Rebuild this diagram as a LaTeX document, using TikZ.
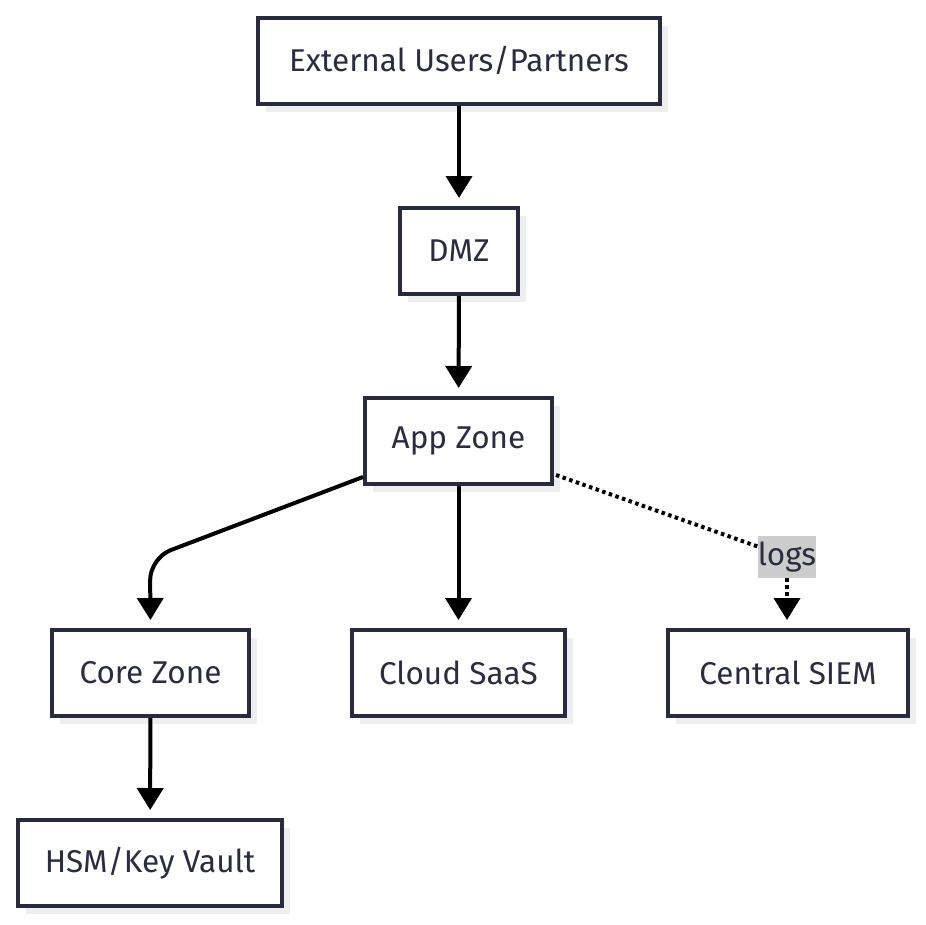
\documentclass[tikz,border=0pt]{standalone}
\usepackage{fontspec}
\setmainfont{Fira Sans}
\usetikzlibrary{arrows.meta,shadows}
\definecolor{borderc}{RGB}{42,42,62}
\definecolor{textc}{RGB}{44,44,64}
\definecolor{shadowc}{RGB}{238,238,238}
\definecolor{labelbg}{RGB}{204,204,204}
\begin{document}
\begin{tikzpicture}[x=1pt,y=-1pt,
  box/.style={draw=borderc, line width=4pt, fill=white, text=textc,
    font=\fontsize{31.5}{36}\selectfont, inner sep=0pt, minimum height=86pt,
    drop shadow={shadow xshift=8pt, shadow yshift=-8pt, fill=shadowc, opacity=1}},
  conn/.style={line width=4pt, draw=black, -{Triangle[width=26pt,length=22pt]}, shorten >=8pt},
  dotconn/.style={line width=4pt, draw=black, dash pattern=on 3.5pt off 3.5pt}
]
\useasboundingbox (0,0) rectangle (926,924);
\node[box, minimum width=402pt] (ext) at (459,60.5) {External Users/Partners};
\node[box, minimum width=118pt] (dmz) at (459,251) {DMZ};
\node[box, minimum width=187pt] (app) at (458.5,441) {App Zone};
\node[box, minimum width=197pt] (core) at (150.5,673) {Core Zone};
\node[box, minimum width=213pt] (saas) at (458.5,673) {Cloud SaaS};
\node[box, minimum width=240pt] (siem) at (788,673) {Central SIEM};
\node[box, minimum width=264pt] (hsm) at (150,863) {HSM/Key Vault};

\draw[conn] (ext) -- (dmz);
\draw[conn] (dmz) -- (app);
\draw[conn] (app) -- (saas);
\draw[conn] (core) -- (hsm);
\coordinate (a1) at (363,477);
\coordinate (c1) at (150,558);
\draw[conn, rounded corners=22pt] (a1) -- (c1) -- (core.north);
\coordinate (a2) at (556,475);
\node[fill=labelbg, text=textc, inner sep=0pt, minimum width=58pt, minimum height=42pt,
  font=\fontsize{31.5}{36}\selectfont] (lbl) at (787,557) {logs};
\draw[dotconn] (a2) -- (lbl.west |- 0,546.5);
\draw[dotconn, -{Triangle[width=26pt,length=22pt]}, shorten >=8pt] (lbl.south) -- (siem.north -| lbl.south);
\end{tikzpicture}
\end{document}
